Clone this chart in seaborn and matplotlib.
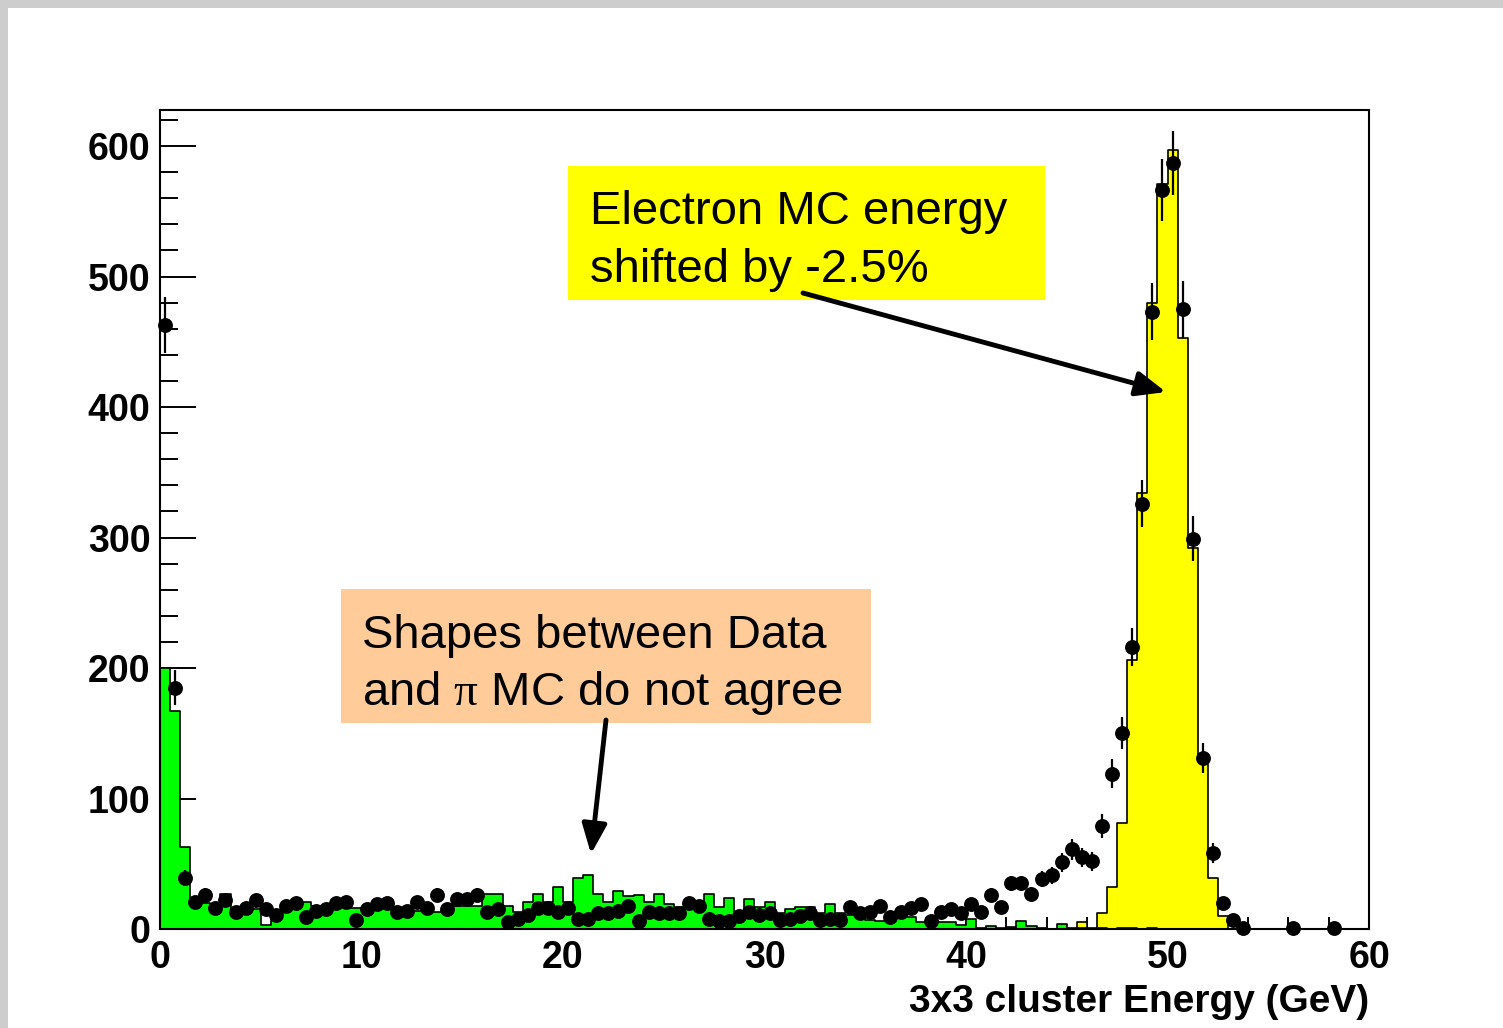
import numpy as np
import pandas as pd
import seaborn as sns
import matplotlib
matplotlib.use("Agg")
import matplotlib.pyplot as plt
from matplotlib.patches import Rectangle, FancyArrowPatch
from matplotlib.ticker import MultipleLocator

# 0.5 GeV bins from 0 to 60 GeV
bin_edges = np.arange(0, 60.5, 0.5)
bin_centers = bin_edges[:-1] + 0.25

# pion MC (green), read per bin
pion_mc = [
    200, 167, 63, 20, 20, 18, 27, 15, 17, 15,
    3, 12, 15, 20, 21, 18, 18, 17, 17, 16,
    15, 15, 15, 15, 14, 14, 13, 13, 16, 18,
    18, 18, 27, 27, 18, 13, 21, 27, 21, 32,
    21, 39, 41, 27, 21, 29, 25, 26, 21, 27,
    19, 17, 17, 15, 27, 17, 24, 12, 23, 17,
    21, 12, 15, 17, 17, 12, 19, 12, 11, 10,
    7, 6, 6, 9, 9, 5, 5, 5, 5, 3,
    8, 1, 2, 1, 0.5, 6, 2, 1, 0, 4,
    1, 1, 1, 1, 0, 1, 1, 0, 1, 0,
    0, 0, 0, 0, 0, 0, 0, 0, 0, 0,
    0, 0, 0, 0, 0, 0, 0, 0, 0, 0,
]

# electron MC shifted by -2.5% (yellow)
electron_mc = [0] * 120
electron_mc[84] = 1.5
electron_mc[91] = 5
electron_mc[93:106] = [12, 32, 81, 206, 334, 480, 571, 597, 453, 292, 130, 39, 10]

# data points
data_counts = [
    463, 185, 39, 21, 26, 16, 22, 13, 16, 22,
    15, 11, 18, 20, 9, 14, 15, 20, 21, 7,
    15, 19, 20, 13, 14, 21, 16, 26, 15, 23,
    23, 26, 13, 15, 5, 8, 11, 16, 16, 13,
    16, 8, 8, 12, 12, 14, 18, 6, 13, 12,
    12, 12, 20, 18, 8, 6, 6, 10, 13, 11,
    12, 7, 8, 10, 12, 7, 8, 7, 17, 12,
    13, 18, 9, 13, 16, 19, 6, 13, 15, 12,
    19, 13, 26, 17, 35, 35, 27, 38, 41, 51,
    61, 55, 52, 79, 119, 150, 216, 326, 473, 566,
    587, 475, 299, 131, 58, 20, 7, 1, 0, 0,
    0, 0, 1, 0, 0, 0, 1, 0, 0, 0,
]

sns.set_theme(style="ticks", rc={"axes.edgecolor": "black", "axes.linewidth": 1.5,
                                 "xtick.color": "black", "ytick.color": "black",
                                 "text.color": "black", "axes.labelcolor": "black"})
plt.rcParams["font.family"] = ["Liberation Sans", "DejaVu Sans"]
plt.rcParams["mathtext.fontset"] = "custom"
plt.rcParams["mathtext.rm"] = "Liberation Serif"

W, H = 1503, 1028
fig = plt.figure(figsize=(W / 100, H / 100), dpi=100)
ax = fig.add_axes([160 / W, 1 - 929 / H, 1209 / W, 819 / H])

hist_df = pd.DataFrame({"E": bin_centers, "pion": pion_mc, "electron": electron_mc})

hist_kw = dict(x="E", binwidth=0.5, binrange=(0, 60), element="step", fill=True,
               alpha=1, edgecolor="black", linewidth=1.2, ax=ax)
sns.histplot(data=hist_df, weights="electron", color="#ffff00", **hist_kw)
sns.histplot(data=hist_df, weights="pion", color="#00ff00", **hist_kw)

data_df = pd.DataFrame({"E": bin_centers, "N": data_counts})
data_df = data_df[data_df["N"] > 0]
ax.errorbar(data_df["E"], data_df["N"], yerr=np.sqrt(data_df["N"]), fmt="none",
            ecolor="black", elinewidth=1.6, zorder=4, clip_on=False)
sns.scatterplot(data=data_df, x="E", y="N", color="black", s=115, linewidth=0,
                ax=ax, zorder=5, clip_on=False)

ax.set_xlim(0, 60)
ax.set_ylim(0, 627.6)
ax.xaxis.set_major_locator(MultipleLocator(10))
ax.xaxis.set_minor_locator(MultipleLocator(2))
ax.yaxis.set_major_locator(MultipleLocator(100))
ax.yaxis.set_minor_locator(MultipleLocator(20))
ax.tick_params(axis="y", which="major", direction="in", length=26, width=1.4, labelsize=27, pad=7)
ax.tick_params(axis="y", which="minor", direction="in", length=13, width=1.4)
ax.tick_params(axis="x", which="major", direction="in", length=16.5, width=1.4, labelsize=27, pad=8)
ax.tick_params(axis="x", which="minor", direction="in", length=8.6, width=1.4)
plt.setp(ax.get_xticklabels() + ax.get_yticklabels(), fontweight="bold")
ax.set_ylabel("")
ax.set_xlabel("3x3 cluster Energy (GeV)", loc="right", fontsize=28, fontweight="bold", labelpad=6)

# grey page border
fig.add_artist(Rectangle((0, 1 - 8 / H), 1, 8 / H, transform=fig.transFigure,
                         facecolor="#cdcdcd", edgecolor="none"))
fig.add_artist(Rectangle((0, 0), 8 / W, 1, transform=fig.transFigure,
                         facecolor="#cdcdcd", edgecolor="none"))

# annotation boxes
fig.add_artist(Rectangle((568 / W, 1 - 300 / H), 477 / W, 134 / H, transform=fig.transFigure,
                         facecolor="#ffff00", edgecolor="none", zorder=2))
fig.add_artist(Rectangle((341 / W, 1 - 723 / H), 530 / W, 134 / H, transform=fig.transFigure,
                         facecolor="#ffcc99", edgecolor="none", zorder=2))

txt = dict(fontsize=34, va="baseline", ha="left", zorder=3)
fig.text(590 / W, 1 - 224 / H, "Electron MC energy", **txt)
fig.text(590 / W, 1 - 282 / H, "shifted by -2.5%", **txt)
fig.text(362 / W, 1 - 648 / H, "Shapes between Data", **txt)
fig.text(362 / W, 1 - 705 / H, r"and $\mathrm{\pi}$ MC do not agree", **txt)

for tail, tip in [((803, 293), (1166, 392)), ((606, 720), (591, 854))]:
    fig.add_artist(FancyArrowPatch((tail[0] / W, 1 - tail[1] / H), (tip[0] / W, 1 - tip[1] / H),
                                   transform=fig.transFigure,
                                   arrowstyle="-|>,head_length=0.6,head_width=0.25",
                                   mutation_scale=30, lw=3.5, color="black",
                                   shrinkA=0, shrinkB=0, zorder=4))

fig.savefig("out.png", dpi=100)
